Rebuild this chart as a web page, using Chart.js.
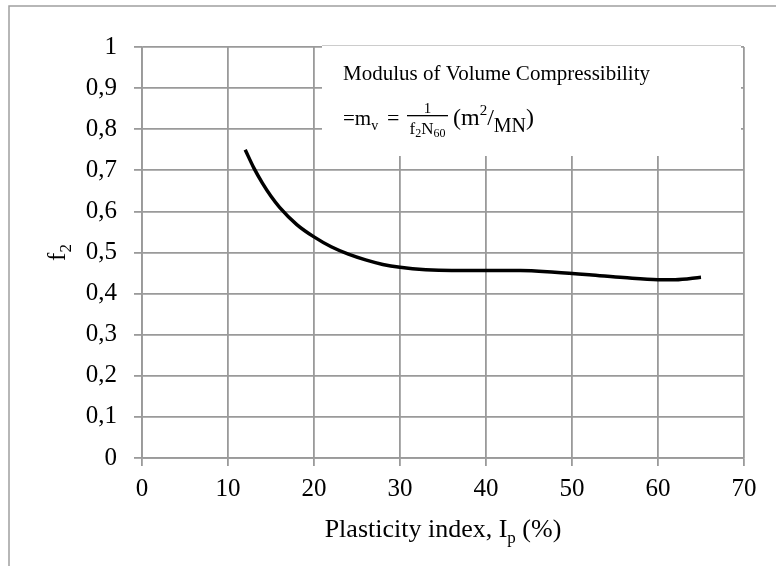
<!DOCTYPE html>
<html><head><meta charset="utf-8">
<script src="https://cdn.jsdelivr.net/npm/chart.js@4.4.0/dist/chart.umd.min.js"></script>
<style>html,body{margin:0;padding:0;background:#fff;}#wrap{width:776px;height:566px;position:relative;}</style>
</head><body><div id="wrap"><canvas id="c" width="776" height="566"></canvas></div>
<script>
// ---- data ----
const plasticityIndex = [12, 13, 14, 15, 16, 18, 20, 22, 24, 26, 28, 30, 33, 36, 40, 44, 48, 52, 56, 60, 62, 65];
const f2Values =        [0.750, 0.706, 0.669, 0.637, 0.610, 0.568, 0.538, 0.514, 0.496, 0.482, 0.471, 0.464, 0.458, 0.456, 0.456, 0.456, 0.452, 0.446, 0.439, 0.434, 0.434, 0.440];
const xTickLabels = ['0', '10', '20', '30', '40', '50', '60', '70'];
const yTickLabels = ['0', '0,1', '0,2', '0,3', '0,4', '0,5', '0,6', '0,7', '0,8', '0,9', '1'];
const xTitleParts = ['Plasticity index, I', 'p', ' (%)'];
const yTitleParts = ['f', '2'];
const noteLine1 = 'Modulus of Volume Compressibility';

const SERIF = '"Liberation Serif", "Times New Roman", serif';
const GRID = '#9a9a9a';

const points = plasticityIndex.map((x, i) => ({x: x, y: f2Values[i]}));

function drawRuns(ctx, runs, x, baseline) {
  for (const r of runs) {
    ctx.font = r.size + 'px ' + SERIF;
    ctx.fillText(r.text, x, baseline + (r.dy || 0));
    x += ctx.measureText(r.text).width;
  }
  return x;
}
function runsWidth(ctx, runs) {
  let w = 0;
  for (const r of runs) { ctx.font = r.size + 'px ' + SERIF; w += ctx.measureText(r.text).width; }
  return w;
}

const decor = {
  id: 'decor',
  beforeDraw(chart) {
    const ctx = chart.ctx;
    ctx.save();
    ctx.fillStyle = '#fff';
    ctx.fillRect(0, 0, chart.width, chart.height);
    ctx.strokeStyle = '#a0a0a0';
    ctx.lineWidth = 1.5;
    ctx.beginPath();
    ctx.moveTo(9, chart.height + 5);
    ctx.lineTo(9, 6);
    ctx.lineTo(chart.width + 5, 6);
    ctx.stroke();
    ctx.restore();
  },
  beforeDatasetsDraw(chart) {
    const ctx = chart.ctx;
    ctx.save();
    ctx.fillStyle = '#fff';
    ctx.fillRect(322, 45, 419, 111);
    ctx.strokeStyle = '#cccccc';
    ctx.lineWidth = 1;
    ctx.beginPath();
    ctx.moveTo(322, 45.5);
    ctx.lineTo(741, 45.5);
    ctx.stroke();
    ctx.restore();
  },
  afterDraw(chart) {
    const ctx = chart.ctx;
    const ca = chart.chartArea;
    ctx.save();
    ctx.fillStyle = '#000';
    ctx.textBaseline = 'alphabetic';
    ctx.textAlign = 'left';
    // x title
    const xr = [{text: xTitleParts[0], size: 26}, {text: xTitleParts[1], size: 17, dy: 6}, {text: xTitleParts[2], size: 26}];
    const xw = runsWidth(ctx, xr);
    drawRuns(ctx, xr, (ca.left + ca.right) / 2 - xw / 2, 537);
    // y title
    ctx.save();
    ctx.translate(65, (ca.top + ca.bottom) / 2);
    ctx.rotate(-Math.PI / 2);
    const yr = [{text: yTitleParts[0], size: 25}, {text: yTitleParts[1], size: 17, dy: 6}];
    const yw = runsWidth(ctx, yr);
    drawRuns(ctx, yr, -yw / 2, 0);
    ctx.restore();
    // note
    ctx.font = '21px ' + SERIF;
    ctx.fillText(noteLine1, 343, 80);
    drawRuns(ctx, [{text: '=m', size: 21}, {text: 'v', size: 14, dy: 5}], 343, 125);
    ctx.font = '22px ' + SERIF;
    ctx.fillText('=', 387, 125);
    // fraction
    const fx = 407, fw = 41;
    const denom = [{text: 'f', size: 17}, {text: '2', size: 12, dy: 3}, {text: 'N', size: 17}, {text: '60', size: 12, dy: 3}];
    const dw = runsWidth(ctx, denom);
    ctx.font = '15px ' + SERIF;
    const nw = ctx.measureText('1').width;
    ctx.fillText('1', fx + fw / 2 - nw / 2, 113);
    ctx.fillRect(fx, 115, fw, 1.3);
    drawRuns(ctx, denom, fx + fw / 2 - dw / 2, 134);
    drawRuns(ctx, [{text: '(m', size: 24}, {text: '2', size: 15, dy: -10}, {text: '/', size: 24}, {text: 'MN', size: 20, dy: 7}, {text: ')', size: 24}], 453, 125);
    ctx.restore();
  }
};

new Chart(document.getElementById('c'), {
  type: 'scatter',
  data: {
    datasets: [{
      data: points,
      showLine: true,
      borderColor: '#000',
      borderWidth: 3.5,
      pointRadius: 0,
      pointHoverRadius: 0,
      fill: false,
      cubicInterpolationMode: 'monotone'
    }]
  },
  options: {
    responsive: false,
    devicePixelRatio: 1,
    animation: false,
    layout: {padding: {left: 0, top: 47, right: 32, bottom: 0}},
    plugins: {legend: {display: false}, tooltip: {enabled: false}},
    scales: {
      x: {
        type: 'linear', min: 0, max: 70,
        afterFit: s => { s.height = 108; },
        grid: {color: GRID, lineWidth: 1.8, tickLength: 8, tickColor: GRID},
        border: {color: GRID, width: 1.8},
        ticks: {stepSize: 10, padding: 8, color: '#000', font: {family: SERIF, size: 25},
                callback: v => xTickLabels[Math.round(v / 10)]}
      },
      y: {
        type: 'linear', min: 0, max: 1,
        afterFit: s => { s.width = 142; },
        grid: {color: GRID, lineWidth: 1.8, tickLength: 8, tickColor: GRID},
        border: {color: GRID, width: 1.8},
        ticks: {stepSize: 0.1, padding: 17, color: '#000', font: {family: SERIF, size: 25},
                callback: v => yTickLabels[Math.round(v * 10)]}
      }
    }
  },
  plugins: [decor]
});
</script></body></html>
